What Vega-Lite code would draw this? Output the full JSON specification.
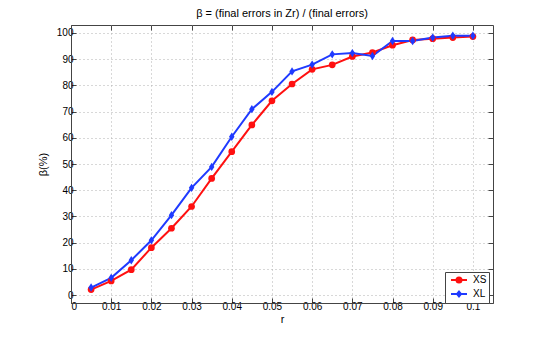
{
  "$schema": "https://vega.github.io/schema/vega-lite/v6.json",
  "width": 422,
  "height": 278,
  "autosize": {"type": "none"},
  "padding": {"left": 71, "top": 25, "right": 52, "bottom": 37},
  "background": "white",
  "config": {
    "font": "Liberation Sans",
    "view": {"stroke": "#444", "strokeWidth": 1},
    "axis": {"labelFont": "Liberation Sans", "titleFont": "Liberation Sans", "labelFontSize": 10, "titleFontSize": 11, "titleFontWeight": "normal", "labelColor": "#000", "titleColor": "#000", "domainColor": "#444", "tickColor": "#444", "tickSize": -5, "labelPadding": 3, "gridColor": "#b0b0b0", "gridDash": [1, 3], "gridWidth": 1}
  },
  "title": {"text": "β = (final errors in Zr) / (final errors)", "font": "Liberation Sans", "fontSize": 11, "fontWeight": "normal", "color": "#000", "offset": 6},
  "data": {"values": [
    {"r": 0.005, "v": 2.1, "s": "XS"},
    {"r": 0.01, "v": 5.4, "s": "XS"},
    {"r": 0.015, "v": 9.7, "s": "XS"},
    {"r": 0.02, "v": 18.1, "s": "XS"},
    {"r": 0.025, "v": 25.5, "s": "XS"},
    {"r": 0.03, "v": 33.8, "s": "XS"},
    {"r": 0.035, "v": 44.5, "s": "XS"},
    {"r": 0.04, "v": 54.7, "s": "XS"},
    {"r": 0.045, "v": 64.9, "s": "XS"},
    {"r": 0.05, "v": 74.1, "s": "XS"},
    {"r": 0.055, "v": 80.5, "s": "XS"},
    {"r": 0.06, "v": 86.1, "s": "XS"},
    {"r": 0.065, "v": 87.8, "s": "XS"},
    {"r": 0.07, "v": 91.0, "s": "XS"},
    {"r": 0.075, "v": 92.5, "s": "XS"},
    {"r": 0.08, "v": 95.3, "s": "XS"},
    {"r": 0.085, "v": 97.3, "s": "XS"},
    {"r": 0.09, "v": 97.8, "s": "XS"},
    {"r": 0.095, "v": 98.2, "s": "XS"},
    {"r": 0.1, "v": 98.6, "s": "XS"},
    {"r": 0.005, "v": 2.9, "s": "XL"},
    {"r": 0.01, "v": 6.6, "s": "XL"},
    {"r": 0.015, "v": 13.3, "s": "XL"},
    {"r": 0.02, "v": 20.9, "s": "XL"},
    {"r": 0.025, "v": 30.5, "s": "XL"},
    {"r": 0.03, "v": 40.9, "s": "XL"},
    {"r": 0.035, "v": 48.9, "s": "XL"},
    {"r": 0.04, "v": 60.4, "s": "XL"},
    {"r": 0.045, "v": 70.9, "s": "XL"},
    {"r": 0.05, "v": 77.5, "s": "XL"},
    {"r": 0.055, "v": 85.3, "s": "XL"},
    {"r": 0.06, "v": 87.9, "s": "XL"},
    {"r": 0.065, "v": 91.8, "s": "XL"},
    {"r": 0.07, "v": 92.3, "s": "XL"},
    {"r": 0.075, "v": 91.2, "s": "XL"},
    {"r": 0.08, "v": 96.9, "s": "XL"},
    {"r": 0.085, "v": 96.9, "s": "XL"},
    {"r": 0.09, "v": 98.2, "s": "XL"},
    {"r": 0.095, "v": 98.9, "s": "XL"},
    {"r": 0.1, "v": 98.9, "s": "XL"}
  ]},
  "layer": [
    {
      "mark": {"type": "line", "strokeWidth": 2},
      "encoding": {
        "x": {"field": "r", "type": "quantitative", "scale": {"domain": [0, 0.105], "nice": false, "zero": false}, "axis": {"title": "r", "values": [0, 0.01, 0.02, 0.03, 0.04, 0.05, 0.06, 0.07, 0.08, 0.09, 0.1], "format": "~g", "grid": true, "titlePadding": 2}},
        "y": {"field": "v", "type": "quantitative", "scale": {"domain": [-3, 103], "nice": false, "zero": false}, "axis": {"title": "β(%)", "values": [0, 10, 20, 30, 40, 50, 60, 70, 80, 90, 100], "grid": true, "titlePadding": 8}},
        "color": {"field": "s", "type": "nominal", "scale": {"domain": ["XS", "XL"], "range": ["#ff1010", "#1f3aff"]},
          "legend": {"title": null, "orient": "none", "legendX": 374, "legendY": 247, "fillColor": "white", "strokeColor": "#444", "padding": 2, "labelFontSize": 10, "labelFont": "Liberation Sans", "labelColor": "#000", "rowPadding": 0, "symbolSize": 100, "symbolStrokeWidth": 2, "labelOffset": 8, "symbolOffset": 6,
            "encode": {"symbols": {"update": {"shape": {"signal": "datum.value === 'XS' ? 'M-1.6,0H1.6M-0.5,0A0.5,0.5 0 1,1 0.5,0A0.5,0.5 0 1,1 -0.5,0Z' : 'M-1.6,0H1.6M0,-0.5L0.4,0L0,0.5L-0.4,0Z'"}, "fill": {"signal": "datum.value === 'XS' ? '#ff1010' : '#1f3aff'"}, "stroke": {"signal": "datum.value === 'XS' ? '#ff1010' : '#1f3aff'"}}}}}}
      }
    },
    {
      "transform": [{"filter": "datum.s === 'XS'"}],
      "mark": {"type": "point", "filled": true, "opacity": 1, "strokeWidth": 0, "shape": "circle", "size": 45, "color": "#ff1010"},
      "encoding": {
        "x": {"field": "r", "type": "quantitative", "axis": null},
        "y": {"field": "v", "type": "quantitative", "axis": null}
      }
    },
    {
      "transform": [{"filter": "datum.s === 'XL'"}],
      "mark": {"type": "point", "filled": true, "opacity": 1, "strokeWidth": 0, "shape": "M0,-1L0.65,0L0,1L-0.65,0Z", "size": 70, "color": "#1f3aff"},
      "encoding": {
        "x": {"field": "r", "type": "quantitative", "axis": null},
        "y": {"field": "v", "type": "quantitative", "axis": null}
      }
    },
    {
      "mark": {"type": "point", "opacity": 0},
      "encoding": {
        "x": {"field": "r", "type": "quantitative", "axis": {"orient": "top", "values": [0, 0.01, 0.02, 0.03, 0.04, 0.05, 0.06, 0.07, 0.08, 0.09, 0.1], "labels": false, "title": null, "grid": false, "domain": false}},
        "y": {"field": "v", "type": "quantitative", "axis": {"orient": "right", "values": [0, 10, 20, 30, 40, 50, 60, 70, 80, 90, 100], "labels": false, "title": null, "grid": false, "domain": false}}
      }
    }
  ],
  "resolve": {"axis": {"x": "independent", "y": "independent"}}
}
